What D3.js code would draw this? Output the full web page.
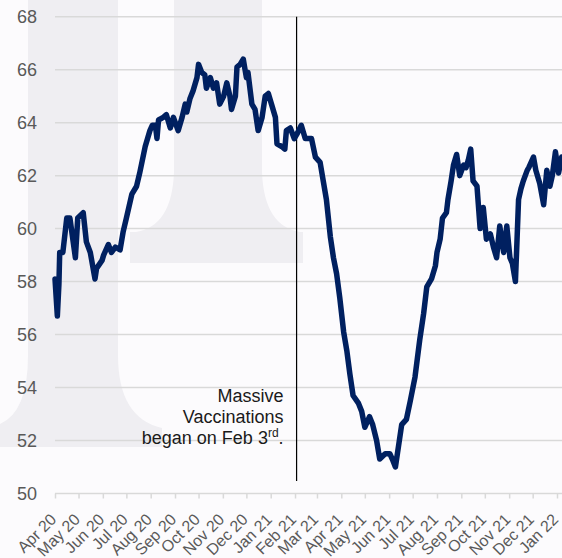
<!DOCTYPE html>
<html>
<head>
<meta charset="utf-8">
<script src="https://cdn.jsdelivr.net/npm/d3@7"></script>
<style>
  html, body { margin: 0; padding: 0; background: #fcfbfd; }
  svg { display: block; font-family: "Liberation Sans", Arial, sans-serif; }
</style>
</head>
<body>
<svg id="chart" width="562" height="558"></svg>
<script>
const dates = [
  "2020-04-01","2020-04-04","2020-04-06","2020-04-07","2020-04-11","2020-04-16","2020-04-20","2020-04-27","2020-04-30",
  "2020-05-07","2020-05-11","2020-05-16","2020-05-22","2020-05-24","2020-05-31",
  "2020-06-02","2020-06-08","2020-06-12","2020-06-17","2020-06-23","2020-06-27",
  "2020-07-01","2020-07-08","2020-07-14","2020-07-18","2020-07-25","2020-07-31",
  "2020-08-03","2020-08-07","2020-08-09","2020-08-11","2020-08-17","2020-08-21","2020-08-26","2020-08-30",
  "2020-09-05","2020-09-10","2020-09-14","2020-09-16","2020-09-20","2020-09-24","2020-09-29",
  "2020-10-01","2020-10-05","2020-10-09","2020-10-11","2020-10-16","2020-10-20","2020-10-24","2020-10-28",
  "2020-11-02","2020-11-06","2020-11-10","2020-11-12","2020-11-17","2020-11-19","2020-11-23","2020-11-27",
  "2020-12-01","2020-12-03","2020-12-08","2020-12-12","2020-12-16","2020-12-21","2020-12-25","2020-12-29",
  "2021-01-02","2021-01-07","2021-01-09","2021-01-15","2021-01-19","2021-01-21","2021-01-26","2021-01-31",
  "2021-02-04","2021-02-09","2021-02-14","2021-02-22","2021-02-27",
  "2021-03-05","2021-03-09","2021-03-13","2021-03-18","2021-03-22","2021-03-26","2021-03-30",
  "2021-04-04","2021-04-08","2021-04-12","2021-04-16","2021-04-23","2021-04-27",
  "2021-05-01","2021-05-07","2021-05-11","2021-05-16","2021-05-20","2021-05-27",
  "2021-06-02","2021-06-05","2021-06-09","2021-06-13","2021-06-17","2021-06-23","2021-06-28",
  "2021-07-04","2021-07-10","2021-07-15","2021-07-19","2021-07-25","2021-07-30",
  "2021-08-01","2021-08-05","2021-08-08","2021-08-13","2021-08-15","2021-08-19","2021-08-22","2021-08-26","2021-08-30",
  "2021-09-04","2021-09-07","2021-09-10","2021-09-13","2021-09-16","2021-09-21","2021-09-25","2021-09-29",
  "2021-10-03","2021-10-08","2021-10-12","2021-10-16","2021-10-20","2021-10-25","2021-10-29",
  "2021-11-02","2021-11-05","2021-11-09","2021-11-13","2021-11-16","2021-11-19","2021-11-24","2021-11-26",
  "2021-12-02","2021-12-05","2021-12-10","2021-12-15","2021-12-19","2021-12-23","2021-12-26","2021-12-30",
  "2022-01-03","2022-01-07"
]

const values = [
  58.1, 56.7, 57.9, 59.1, 59.1, 60.4, 60.4, 58.9, 60.4,
  60.6, 59.5, 59.1, 58.1, 58.5, 58.8,
  59.0, 59.4, 59.1, 59.3, 59.2, 59.9,
  60.4, 61.3, 61.6, 62.1, 63.1, 63.7,
  63.9, 63.9, 63.4, 64.1, 64.2, 64.3, 63.8, 64.2,
  63.7, 64.2, 64.7, 64.4, 64.9, 65.2, 65.7,
  66.2, 65.9, 65.8, 65.3, 65.7, 65.3, 65.5, 64.7,
  65.0, 65.5, 65.0, 64.5, 65.0, 66.1, 66.2, 66.4,
  65.7, 65.9, 64.7, 64.5, 63.7, 64.2, 65.0, 65.1,
  64.7, 64.2, 63.2, 63.1, 63.0, 63.7, 63.8, 63.4,
  63.6, 63.9, 63.4, 63.4, 62.7,
  62.5, 61.8, 61.1, 59.7, 58.9, 58.3, 57.4,
  56.1, 55.4, 54.5, 53.7, 53.4, 53.1,
  52.5, 52.9, 52.6, 52.0, 51.3, 51.5,
  51.5, 51.3, 51.0, 51.8, 52.6, 52.8, 53.5,
  54.4, 55.8, 56.8, 57.8, 58.1, 58.6,
  59.1, 59.6, 60.4, 60.6, 61.1, 61.8, 62.4, 62.8, 62.0,
  62.4, 62.3, 62.6, 63.0, 61.8, 61.6, 60.0, 60.8,
  59.6, 59.8, 59.3, 58.9, 60.1, 59.1, 60.1,
  58.9, 58.7, 58.0, 61.1, 61.5, 61.8, 62.2, 62.3,
  62.7, 62.2, 61.7, 60.9, 62.2, 61.6, 62.0, 62.9,
  62.1, 62.7
]

const yTicks = [50, 52, 54, 56, 58, 60, 62, 64, 66, 68]

const monthLabels = [
  "Apr 20","May 20","Jun 20","Jul 20","Aug 20","Sep 20","Oct 20","Nov 20","Dec 20",
  "Jan 21","Feb 21","Mar 21","Apr 21","May 21","Jun 21","Jul 21","Aug 21","Sep 21",
  "Oct 21","Nov 21","Dec 21","Jan 22"
]

const vaccinationDate = "2021-02-03"
const noteLines = ["Massive", "Vaccinations", "began on Feb 3"]

const width = 562
const height = 558
const margin = { top: 16.7, right: 5, bottom: 64.5, left: 55 }

const parse = d3.timeParse("%Y-%m-%d")
const points = dates.map((d, i) => ({ date: parse(d), value: values[i] }))
const monthTicks = d3.timeMonth.range(parse("2020-04-01"), parse("2022-01-02"))

const svg = d3.select("#chart")

// faint logo watermark in the background
const wm = svg.append("g").attr("fill", "#efeef2")
wm.append("path")
  .attr("d", "M28,0 H118 V355 Q118,418 162,428 V447 H0 V424 Q28,412 28,355 Z")
wm.append("path")
  .attr("d", "M174,0 H262 V172 Q264,226 300,232 H136 Q172,226 174,172 Z")
wm.append("rect").attr("x", 130).attr("y", 232).attr("width", 173).attr("height", 31)

const x = d3
  .scaleTime()
  .domain([parse("2020-04-01"), parse("2022-01-01")])
  .range([55, 557])

const y = d3
  .scaleLinear()
  .domain([50, 68])
  .range([height - margin.bottom, margin.top])

// gridlines
svg
  .append("g")
  .selectAll("line")
  .data(yTicks.filter((t) => t !== 50))
  .enter()
  .append("line")
  .attr("x1", margin.left)
  .attr("x2", width)
  .attr("y1", (d) => y(d))
  .attr("y2", (d) => y(d))
  .attr("stroke", "#d9d9d9")
  .attr("stroke-width", 1.5)

// y labels
const yAxis = svg
  .append("g")
  .attr("transform", `translate(37,0)`)
  .call(d3.axisLeft(y).tickValues(yTicks).tickSize(0).tickPadding(0))
yAxis.select(".domain").remove()
yAxis
  .selectAll("text")
  .attr("font-family", "Liberation Sans, Arial, sans-serif")
  .attr("font-size", 18)
  .attr("fill", "#595959")

// x axis
const xAxis = svg
  .append("g")
  .attr("transform", `translate(0,${y(50)})`)
  .call(
    d3
      .axisBottom(x)
      .tickValues(monthTicks)
      .tickSize(5)
      .tickSizeOuter(0)
      .tickFormat((d, i) => monthLabels[i])
  )
xAxis.select(".domain").attr("stroke", "#d9d9d9").attr("stroke-width", 1.5).attr("d", `M${margin.left},0H${width}`)
xAxis.selectAll(".tick line").attr("stroke", "#d9d9d9").attr("stroke-width", 1.5)
xAxis
  .selectAll("text")
  .attr("font-family", "Liberation Sans, Arial, sans-serif")
  .attr("font-size", 16)
  .attr("fill", "#595959")
  .attr("text-anchor", "end")
  .attr("dominant-baseline", "central")
  .attr("dy", null)
  .attr("y", 0)
  .attr("transform", "translate(-2,23) rotate(-45)")

// vaccination marker
const vx = x(parse(vaccinationDate))
svg
  .append("line")
  .attr("x1", vx)
  .attr("x2", vx)
  .attr("y1", y(68))
  .attr("y2", y(50) - 12.5)
  .attr("stroke", "#000")
  .attr("stroke-width", 1.2)

const note = svg
  .append("text")
  .attr("text-anchor", "end")
  .attr("font-size", 18)
  .attr("fill", "#1a1a1a")
noteLines.forEach((t, i) => {
  note
    .append("tspan")
    .attr("x", vx - 13)
    .attr("y", 401.5 + i * 21.3)
    .text(t)
  if (i === noteLines.length - 1) {
    note.append("tspan").attr("dy", -7).attr("font-size", 12).text("rd")
    note.append("tspan").attr("dy", 7).text(".")
  }
})

// main line
svg
  .append("path")
  .datum(points)
  .attr("fill", "none")
  .attr("stroke", "#002060")
  .attr("stroke-width", 5.5)
  .attr("stroke-linejoin", "round")
  .attr("stroke-linecap", "round")
  .attr(
    "d",
    d3
      .line()
      .x((d) => x(d.date))
      .y((d) => y(d.value))
  )
</script>
</body>
</html>
